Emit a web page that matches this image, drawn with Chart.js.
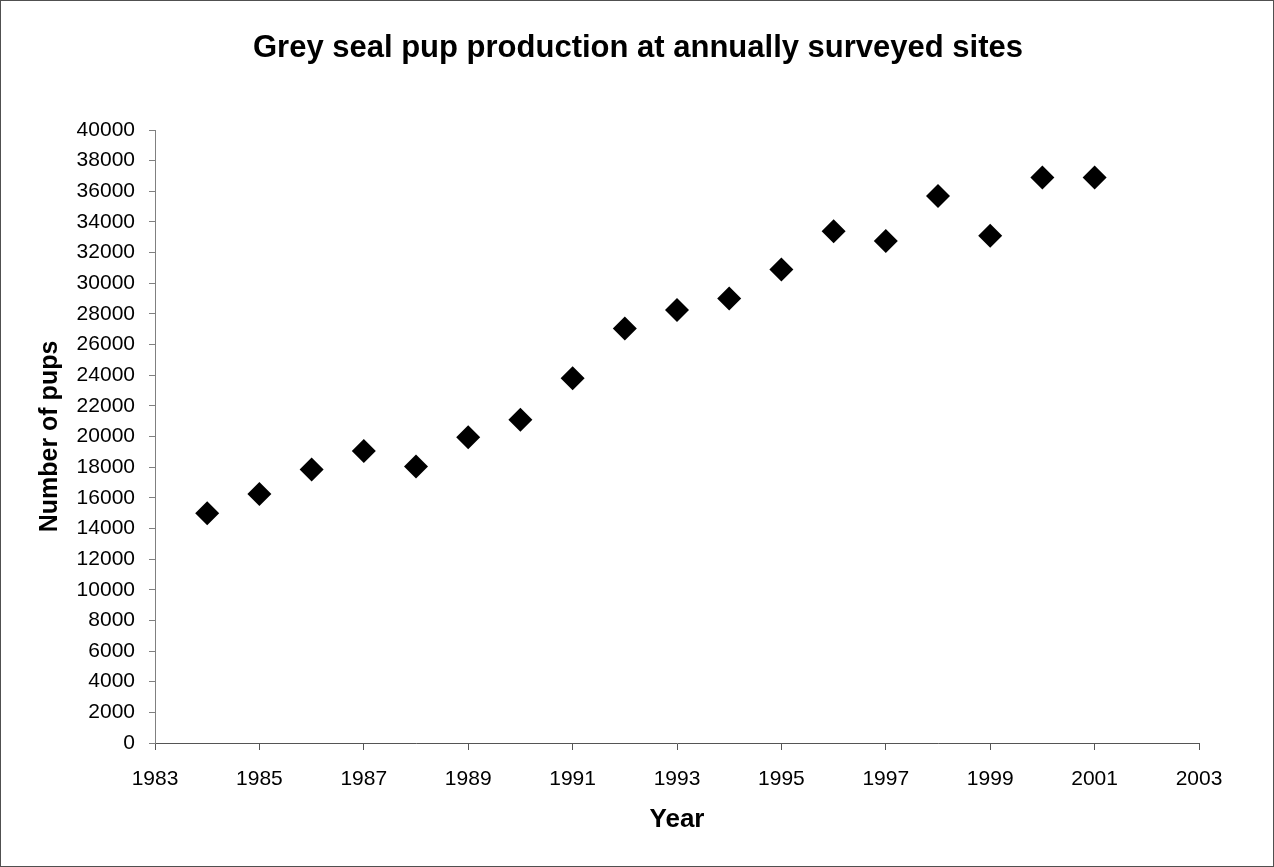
<!DOCTYPE html>
<html>
<head>
<meta charset="utf-8">
<script src="https://cdn.jsdelivr.net/npm/chart.js@4"></script>
<style>
html,body{margin:0;padding:0;background:#fff;}
#wrap{width:1274px;height:867px;position:relative;}
canvas{display:block;}
</style>
</head>
<body>
<div id="wrap"><canvas id="c" width="1274" height="867"></canvas></div>
<script>
const years = [1984,1985,1986,1987,1988,1989,1990,1991,1992,1993,1994,1995,1996,1997,1998,1999,2000,2001];
const pups = [15000,16250,17850,19050,18050,19950,21100,23800,27050,28250,29000,30900,33400,32750,35700,33100,36900,36900];
const titleText = 'Grey seal pup production at annually surveyed sites';
const xTitle = 'Year';
const yTitle = 'Number of pups';
const xRange = [1983, 2003];
const yRange = [0, 40000];

const FONT = "'Liberation Sans', Arial, sans-serif";

const framePlugin = {
  id: 'frame',
  beforeDraw(chart) {
    const ctx = chart.ctx;
    ctx.save();
    ctx.fillStyle = '#ffffff';
    ctx.fillRect(0, 0, chart.width, chart.height);
    ctx.strokeStyle = '#505050';
    ctx.lineWidth = 1;
    ctx.strokeRect(0.5, 0.5, chart.width - 1, chart.height - 1);
    ctx.restore();
  },
  afterDraw(chart) {
    const ctx = chart.ctx;
    ctx.save();
    ctx.fillStyle = '#000';
    ctx.font = "bold 31px " + FONT;
    ctx.textAlign = 'center';
    ctx.textBaseline = 'alphabetic';
    ctx.fillText(titleText, 638, 57);
    ctx.restore();
  }
};

new Chart(document.getElementById('c'), {
  type: 'scatter',
  data: {
    datasets: [{
      label: 'Pups',
      data: years.map((y, i) => ({x: y, y: pups[i]})),
      pointStyle: 'rectRot',
      pointRadius: 12,
      pointHoverRadius: 12,
      backgroundColor: '#000000',
      borderColor: '#000000',
      borderWidth: 0
    }]
  },
  plugins: [framePlugin],
  options: {
    responsive: false,
    animation: false,
    events: [],
    layout: { padding: { left: 0, right: 75, top: 130, bottom: 0 } },
    plugins: {
      legend: { display: false },
      tooltip: { enabled: false },
      title: { display: false }
    },
    scales: {
      x: {
        type: 'linear',
        min: xRange[0],
        max: xRange[1],
        afterFit(scale) { scale.height = 124; },
        ticks: {
          stepSize: 2,
          color: '#000',
          padding: 17,
          maxRotation: 0,
          font: { family: FONT, size: 21 },
          callback: v => String(v)
        },
        grid: { display: true, drawOnChartArea: false, drawTicks: true, tickLength: 7, color: '#555' },
        border: { display: true, color: '#555', width: 1 },
        title: {
          display: true,
          text: xTitle,
          color: '#000',
          font: { family: FONT, size: 26, weight: 'bold', lineHeight: 1.2 },
          padding: { top: 0, bottom: 32 }
        }
      },
      y: {
        min: yRange[0],
        max: yRange[1],
        afterFit(scale) { scale.width = 155; },
        ticks: {
          stepSize: 2000,
          color: '#000',
          padding: 14,
          font: { family: FONT, size: 21 },
          callback: v => String(v)
        },
        grid: { display: true, drawOnChartArea: false, drawTicks: true, tickLength: 6, color: '#808080' },
        border: { display: true, color: '#808080', width: 1 },
        title: {
          display: true,
          text: yTitle,
          color: '#000',
          font: { family: FONT, size: 25, weight: 'bold', lineHeight: 1.2 },
          padding: { top: 35, bottom: 0 }
        }
      }
    }
  }
});
</script>
</body>
</html>
